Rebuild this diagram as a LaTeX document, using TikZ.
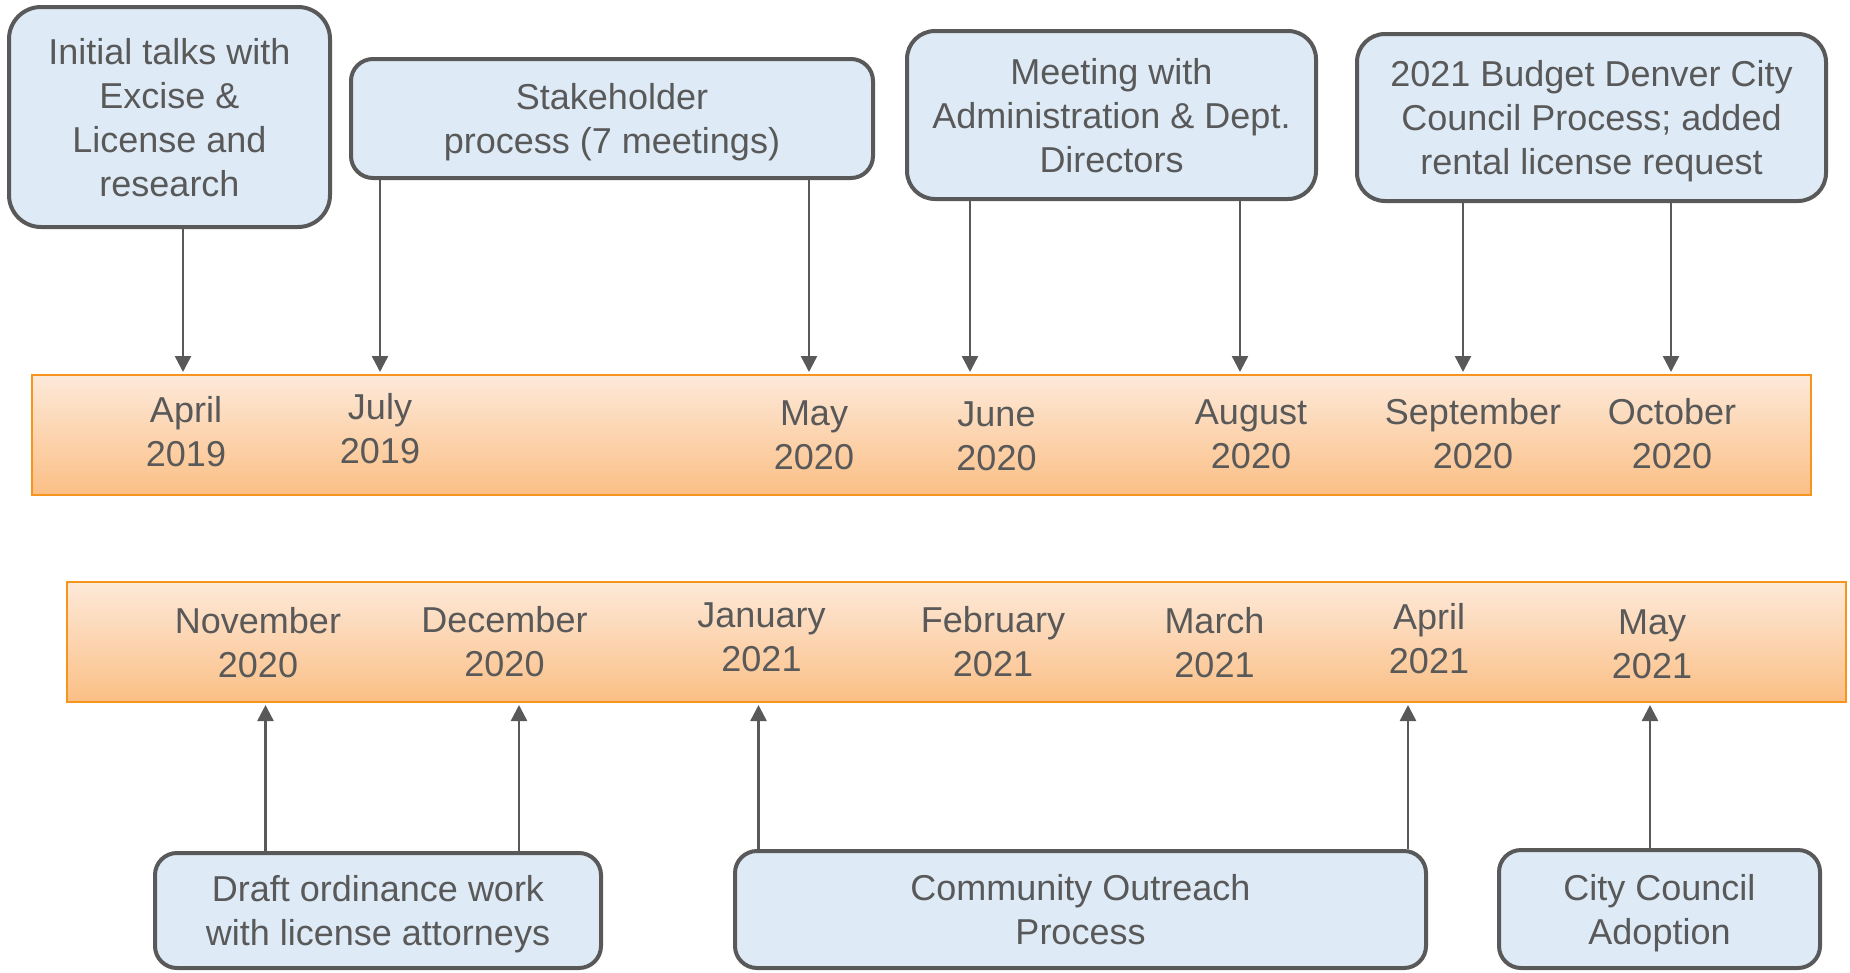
\documentclass[tikz,border=0pt]{standalone}
\usepackage{fontspec}
\setmainfont{Liberation Sans}
\usetikzlibrary{arrows.meta}
\definecolor{inkgrey}{HTML}{595959}
\definecolor{boxblue}{HTML}{DEEBF7}
\definecolor{barline}{HTML}{F7941D}
\definecolor{bartop}{HTML}{FDE9D9}
\definecolor{barbot}{HTML}{FBBF85}
\tikzset{
	evbox/.style={draw=inkgrey, line width=4pt, fill=boxblue, text=inkgrey, align=center, font=\fontsize{36}{44}\selectfont, inner sep=0pt, text depth=0pt},
	bar/.style={draw=barline, line width=2pt, top color=bartop, bottom color=barbot, inner sep=0pt},
	month/.style={text=inkgrey, align=center, font=\fontsize{36}{44}\selectfont, inner sep=0pt},
	arr/.style={draw=inkgrey, line width=2.5pt, -{Triangle[width=16pt,length=16pt]}}
}

\begin{document}
\begin{tikzpicture}[x=1pt, y=-1pt]
			%%%%% START %%%%%
			\useasboundingbox (0, 0) rectangle (1850, 972);
			
			% the two time bars
			\node[bar, minimum width=1779pt, minimum height=120pt] (bar1) at (921.5, 435) {};
			\node[bar, minimum width=1779pt, minimum height=120pt] (bar2) at (956.5, 642) {};
			
			\node[month] (apr19) at (186, 432) {April\\2019};
			\node[month] (jul19) at (380, 429) {July\\2019};
			\node[month] (may20) at (814, 435) {May\\2020};
			\node[month] (jun20) at (996.5, 436) {June\\2020};
			\node[month] (aug20) at (1251, 434) {August\\2020};
			\node[month] (sep20) at (1473, 434) {September\\2020};
			\node[month] (oct20) at (1672, 434) {October\\2020};
			
			\node[month] (nov20) at (258, 643) {November\\2020};
			\node[month] (dec20) at (504.5, 641.5) {December\\2020};
			\node[month] (jan21) at (761.5, 637) {January\\2021};
			\node[month] (feb21) at (993, 641.5) {February\\2021};
			\node[month] (mar21) at (1214.5, 643) {March\\2021};
			\node[month] (apr21) at (1429, 639) {April\\2021};
			\node[month] (may21) at (1652, 644) {May\\2021};
			
			% event boxes
			\node[evbox, rounded corners=32pt, minimum width=321pt, minimum height=220pt] (talks) at (169.5, 117) {Initial talks with\\Excise \&\\License and\\research};
			\node[evbox, rounded corners=22pt, minimum width=522pt, minimum height=119pt] (stake) at (612, 118.5) {Stakeholder\\process (7 meetings)};
			\node[evbox, rounded corners=28pt, minimum width=409pt, minimum height=168pt] (admin) at (1111.5, 115) {Meeting with\\Administration \& Dept.\\Directors};
			\node[evbox, rounded corners=28pt, minimum width=469pt, minimum height=167pt] (budget) at (1591.5, 117.5) {2021 Budget Denver City\\Council Process; added\\rental license request};
			
			\node[evbox, rounded corners=22pt, minimum width=446pt, minimum height=115pt] (draft) at (378, 910.5) {Draft ordinance work\\with license attorneys};
			\node[evbox, rounded corners=22pt, minimum width=691pt, minimum height=117pt] (outreach) at (1080.5, 909.5) {Community Outreach\\Process};
			\node[evbox, rounded corners=22pt, minimum width=321pt, minimum height=118pt] (adopt) at (1659.5, 909) {City Council\\Adoption};
			
			% tick points on the bars
			\coordinate (t1) at (183, 372);
			\coordinate (t2) at (380, 372);
			\coordinate (t3) at (809, 372);
			\coordinate (t4) at (970, 372);
			\coordinate (t5) at (1240, 372);
			\coordinate (t6) at (1463, 372);
			\coordinate (t7) at (1671, 372);
			
			\coordinate (u1) at (265.5, 705);
			\coordinate (u2) at (519, 705);
			\coordinate (u3) at (758.5, 705);
			\coordinate (u4) at (1408, 705);
			\coordinate (u5) at (1650, 705);
			
			\draw[arr] (talks.south -| t1) -- (t1);
			\draw[arr] (stake.south -| t2) -- (t2);
			\draw[arr] (stake.south -| t3) -- (t3);
			\draw[arr] (admin.south -| t4) -- (t4);
			\draw[arr] (admin.south -| t5) -- (t5);
			\draw[arr] (budget.south -| t6) -- (t6);
			\draw[arr] (budget.south -| t7) -- (t7);
			
			\draw[arr] (draft.north -| u1) -- (u1);
			\draw[arr] (draft.north -| u2) -- (u2);
			\draw[arr] (outreach.north -| u3) -- (u3);
			\draw[arr] (outreach.north -| u4) -- (u4);
			\draw[arr] (adopt.north -| u5) -- (u5);
			
			%%%%% END %%%%%
\end{tikzpicture}
\end{document}
